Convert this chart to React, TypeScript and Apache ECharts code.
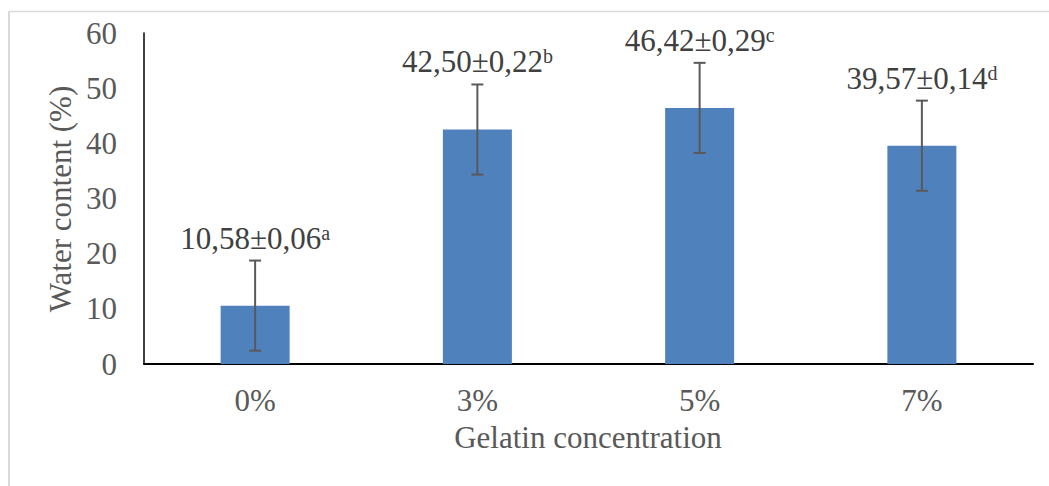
import React, { useEffect, useRef } from "react";
import * as echarts from "echarts";

const categories = ["0%", "3%", "5%", "7%"];
const waterContent = [10.58, 42.5, 46.42, 39.57];
const errorBars = [8.17, 8.17, 8.17, 8.17];
const labelTexts = ["10,58±0,06", "42,50±0,22", "46,42±0,29", "39,57±0,14"];
const labelLetters = ["a", "b", "c", "d"];
const yAxisTitle = "Water content (%)";
const xAxisTitle = "Gelatin concentration";

const FONT = "'Liberation Serif', 'Times New Roman', serif";

export default function App() {
  const ref = useRef<HTMLDivElement>(null);

  useEffect(() => {
    if (!ref.current) return;
    const chart = echarts.init(ref.current, undefined, { renderer: "svg" });
    const option: any = {
      animation: false,
      backgroundColor: "#ffffff",
      grid: { left: 144, right: 16, top: 33, bottom: 122 },
      xAxis: {
        type: "category",
        data: categories,
        axisTick: { show: false },
        axisLine: { show: true, lineStyle: { color: "#000000", width: 2 } },
        axisLabel: {
          fontFamily: FONT,
          fontSize: 31,
          color: "#595959",
          margin: 21,
        },
        splitLine: { show: false },
      },
      yAxis: {
        type: "value",
        min: 0,
        max: 60,
        interval: 10,
        axisTick: { show: false },
        axisLine: { show: true, lineStyle: { color: "#000000", width: 1.5 } },
        axisLabel: {
          fontFamily: FONT,
          fontSize: 31,
          color: "#595959",
          margin: 27,
        },
        splitLine: { show: false },
      },
      graphic: [
        {
          type: "line",
          shape: { x1: 9, y1: 11.5, x2: 9, y2: 486 },
          style: { stroke: "#D9D9D9", lineWidth: 2 },
          silent: true,
        },
        {
          type: "line",
          shape: { x1: 9, y1: 11.5, x2: 1049, y2: 11.5 },
          style: { stroke: "#D9D9D9", lineWidth: 1.5 },
          silent: true,
        },
        {
          type: "text",
          x: 60,
          y: 199,
          rotation: Math.PI / 2,
          style: {
            text: yAxisTitle,
            fontFamily: FONT,
            fontSize: 31,
            fill: "#595959",
            align: "center",
            verticalAlign: "middle",
          },
        },
        {
          type: "text",
          x: 588,
          y: 437,
          style: {
            text: xAxisTitle,
            fontFamily: FONT,
            fontSize: 31,
            fill: "#595959",
            align: "center",
            verticalAlign: "middle",
          },
        },
      ],
      series: [
        {
          type: "bar",
          data: waterContent,
          barWidth: 69,
          itemStyle: { color: "#4F81BD" },
          z: 2,
        },
        {
          type: "custom",
          z: 3,
          encode: { x: 0, y: 1 },
          data: categories.map((_, i) => [i, waterContent[i], errorBars[i]]),
          renderItem: (params: any, api: any) => {
            const idx = params.dataIndex;
            const i = api.value(0);
            const v = api.value(1);
            const e = api.value(2);
            const top = api.coord([i, v + e]);
            const bot = api.coord([i, v - e]);
            const x = top[0];
            const cap = 6;
            const stroke = { stroke: "#595959", lineWidth: 2 };
            return {
              type: "group",
              children: [
                { type: "line", shape: { x1: x, y1: top[1], x2: x, y2: bot[1] }, style: stroke },
                { type: "line", shape: { x1: x - cap, y1: top[1], x2: x + cap, y2: top[1] }, style: stroke },
                { type: "line", shape: { x1: x - cap, y1: bot[1], x2: x + cap, y2: bot[1] }, style: stroke },
                {
                  type: "text",
                  x: x,
                  y: top[1] - 7,
                  style: {
                    text: `{v|${labelTexts[idx]}}{s|${labelLetters[idx]}}`,
                    align: "center",
                    verticalAlign: "bottom",
                    rich: {
                      v: { fontFamily: FONT, fontSize: 31, lineHeight: 31, fill: "#404040", color: "#404040" },
                      s: { fontFamily: FONT, fontSize: 20, lineHeight: 20, verticalAlign: "top", fill: "#404040", color: "#404040" },
                    },
                  },
                },
              ],
            };
          },
        },
      ],
    };
    chart.setOption(option);
    return () => chart.dispose();
  }, []);

  return (
    <div
      ref={ref}
      style={{ position: "absolute", left: 0, top: 0, width: 1049, height: 486 }}
    />
  );
}
